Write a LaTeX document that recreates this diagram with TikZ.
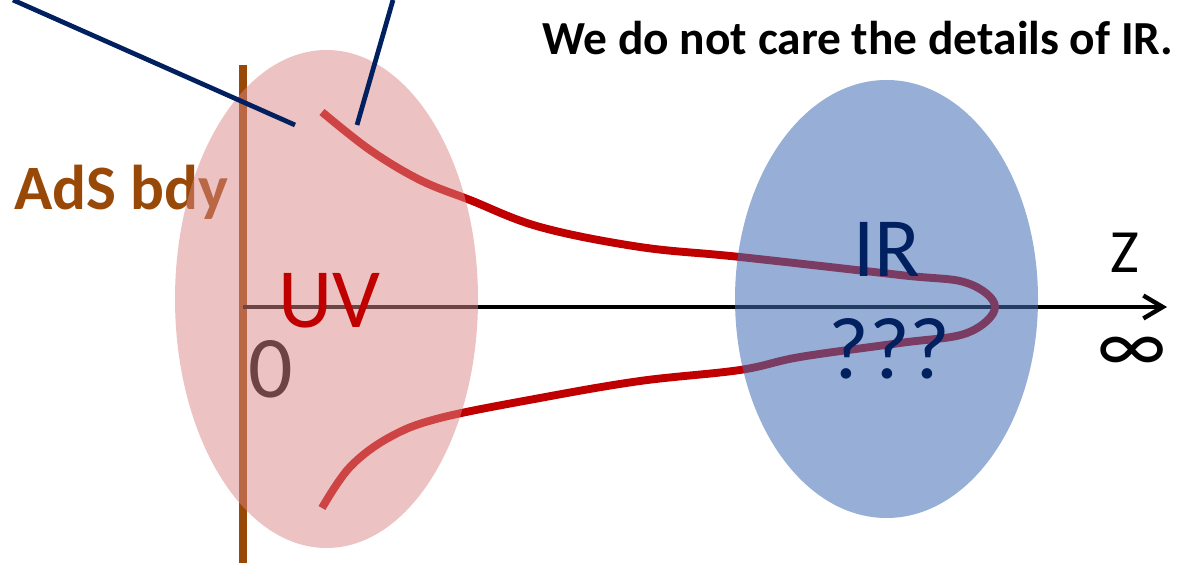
\documentclass[tikz,border=0pt]{standalone}
\usepackage{fontspec}
\setmainfont{Carlito}
\usetikzlibrary{arrows.meta}
\definecolor{navy}{HTML}{002060}
\definecolor{bdybrown}{HTML}{984807}
\definecolor{darkred}{HTML}{C00000}
\definecolor{uvpink}{RGB}{220,134,134}
\definecolor{irblue}{RGB}{65,110,180}
\newcommand{\fsz}[1]{\fontsize{#1}{#1}\selectfont}

\begin{document}
\begin{tikzpicture}[
    x=0.02cm, y=-0.02cm,
    lbl/.style={inner sep=0pt, anchor=base west},
    pointer/.style={navy, line width=2.7pt},
    blob/.style={fill opacity=0.5}
]
\useasboundingbox (0,0) rectangle (1195,563);

\coordinate (bdytop) at (243,65);
\coordinate (bdybot) at (243,563);
\coordinate (origin) at (243,307);
\coordinate (zend) at (1167,307);
\coordinate (ptrA) at (13,0);
\coordinate (tipA) at (295,125);
\coordinate (ptrB) at (393,0);
\coordinate (tipB) at (357,125);

\draw[bdybrown, line width=5pt] (bdytop) -- (bdybot);
\node[lbl, text=bdybrown, font=\fsz{36}\bfseries] (ads) at (14,210) {AdS bdy};
\node[lbl, font=\fsz{50}] (zero) at (248,397) {0};
\draw[line width=2.5pt, -{Straight Barb[length=11pt,width=13pt]}] (origin) -- (zend);
\draw[darkred, line width=4.5pt] plot[smooth, tension=0.6] coordinates {
    (322,112) (370,150) (420,180) (470,200) (540,227) (640,247) (740,257)
    (900,275) (967,283) (995,307) (967,333) (900,343) (800,357) (740,370)
    (640,381) (540,398) (440,418) (390,437) (350,467) (322,508)};

\fill[uvpink, blob] (326.5,299) ellipse [x radius=151.5, y radius=249];
\fill[irblue, fill opacity=0.55] (886.5,299) ellipse [x radius=151.5, y radius=219];

\draw[pointer] (ptrA) -- (tipA);
\draw[pointer] (ptrB) -- (tipB);

\node[lbl, text=darkred, font=\fsz{48}] (uv) at (278,328) {UV};
\node[lbl, text=navy, font=\fsz{48}] (ir) at (853,277) {IR};
\node[lbl, text=navy, font=\fsz{50}] (unknown) at (828,378) {???};
\node[lbl, font=\fsz{35}] (zlab) at (1110,273) {Z};
\node[inner sep=0pt, font=\fsz{46}] (inf) at (1132,355) {∞};
\node[lbl, font=\fsz{27}\bfseries] (title) at (542,55) {We do not care the details of IR.};
\end{tikzpicture}
\end{document}
